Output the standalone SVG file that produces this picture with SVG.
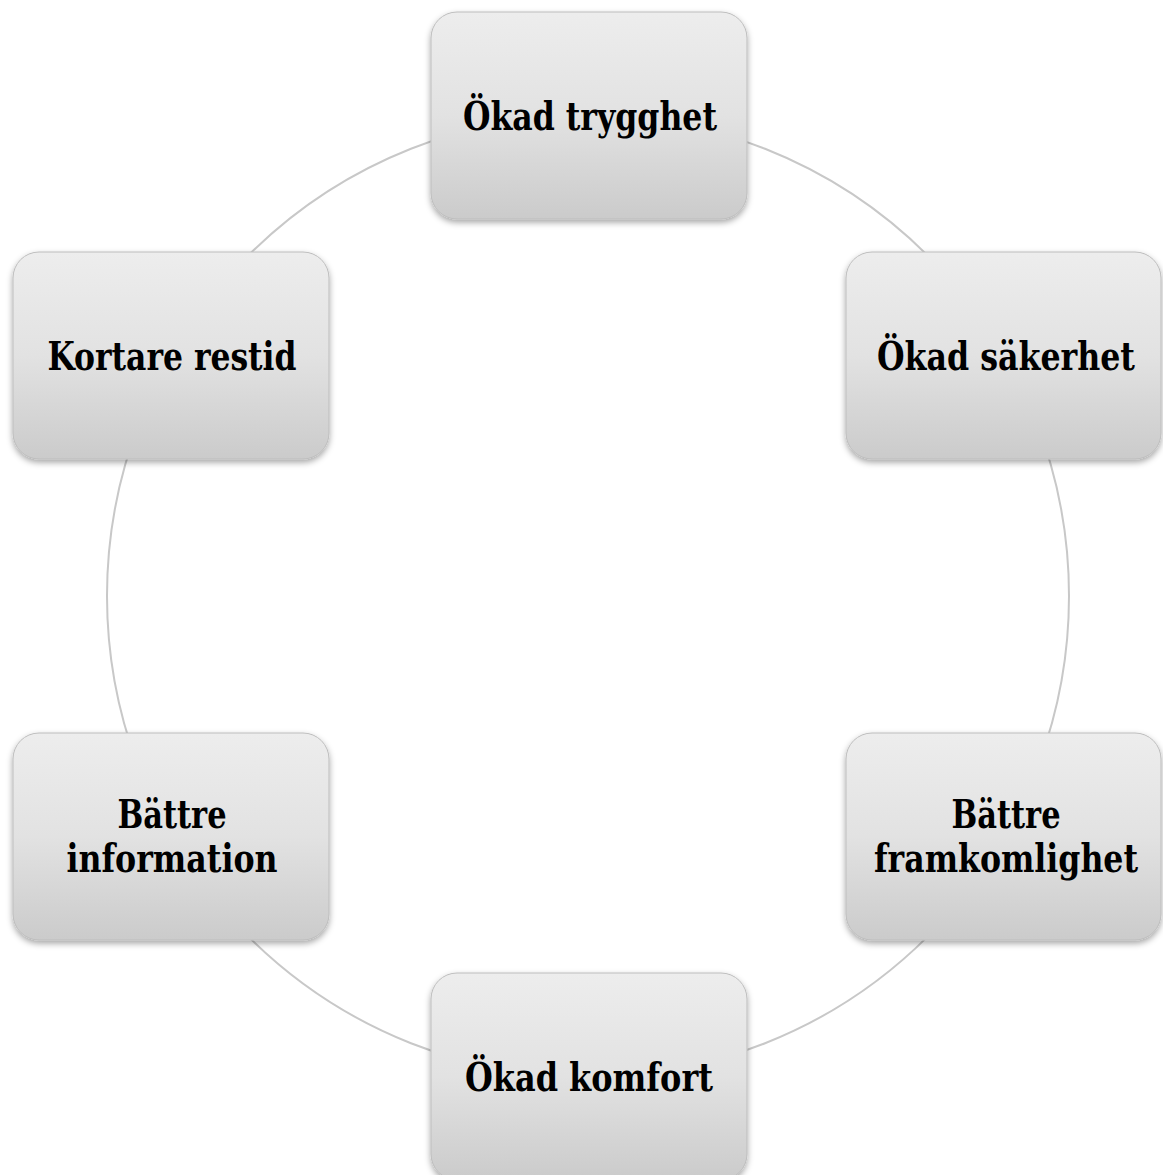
<svg xmlns="http://www.w3.org/2000/svg" width="1163" height="1175" viewBox="0 0 1163 1175">
<defs>
<linearGradient id="g" x1="0" y1="0" x2="0" y2="1">
<stop offset="0" stop-color="#ededed"/>
<stop offset="0.5" stop-color="#e2e2e2"/>
<stop offset="1" stop-color="#cbcbcb"/>
</linearGradient>
<filter id="sh" x="-10%" y="-10%" width="120%" height="125%">
<feDropShadow dx="0" dy="3" stdDeviation="3" flood-color="#000" flood-opacity="0.35"/>
</filter>
</defs>
<style>
.box{fill:url(#g);stroke:#bdbdbd;stroke-width:1;filter:url(#sh)}
.t{font-family:"DejaVu Serif Condensed","DejaVu Serif",serif;font-stretch:condensed;font-weight:bold;font-size:39px;fill:#000;text-anchor:middle}
.c{fill:none;stroke:#c8c8c8;stroke-width:2}
</style>
<rect width="1163" height="1175" fill="#fff"/>
<g id="connectors">
<circle class="c" cx="588" cy="596" r="481"/>
</g>
<g id="n1"><rect class="box" x="431" y="12" width="316" height="207" rx="26"/><text class="t" x="590" y="130" textLength="254" lengthAdjust="spacingAndGlyphs">Ökad trygghet</text></g>
<g id="n2"><rect class="box" x="846" y="252" width="315" height="207" rx="26"/><text class="t" x="1006" y="370" textLength="258" lengthAdjust="spacingAndGlyphs">Ökad säkerhet</text></g>
<g id="n3"><rect class="box" x="846" y="733" width="315" height="207" rx="26"/><text class="t" x="1006" y="828" textLength="109" lengthAdjust="spacingAndGlyphs">Bättre</text><text class="t" x="1006" y="872" textLength="264" lengthAdjust="spacingAndGlyphs">framkomlighet</text></g>
<g id="n4"><rect class="box" x="431" y="973" width="316" height="207" rx="26"/><text class="t" x="589" y="1091" textLength="248" lengthAdjust="spacingAndGlyphs">Ökad komfort</text></g>
<g id="n5"><rect class="box" x="13" y="733" width="316" height="207" rx="26"/><text class="t" x="172" y="828" textLength="109" lengthAdjust="spacingAndGlyphs">Bättre</text><text class="t" x="172" y="872" textLength="211" lengthAdjust="spacingAndGlyphs">information</text></g>
<g id="n6"><rect class="box" x="13" y="252" width="316" height="207" rx="26"/><text class="t" x="172" y="370" textLength="249" lengthAdjust="spacingAndGlyphs">Kortare restid</text></g>
</svg>
